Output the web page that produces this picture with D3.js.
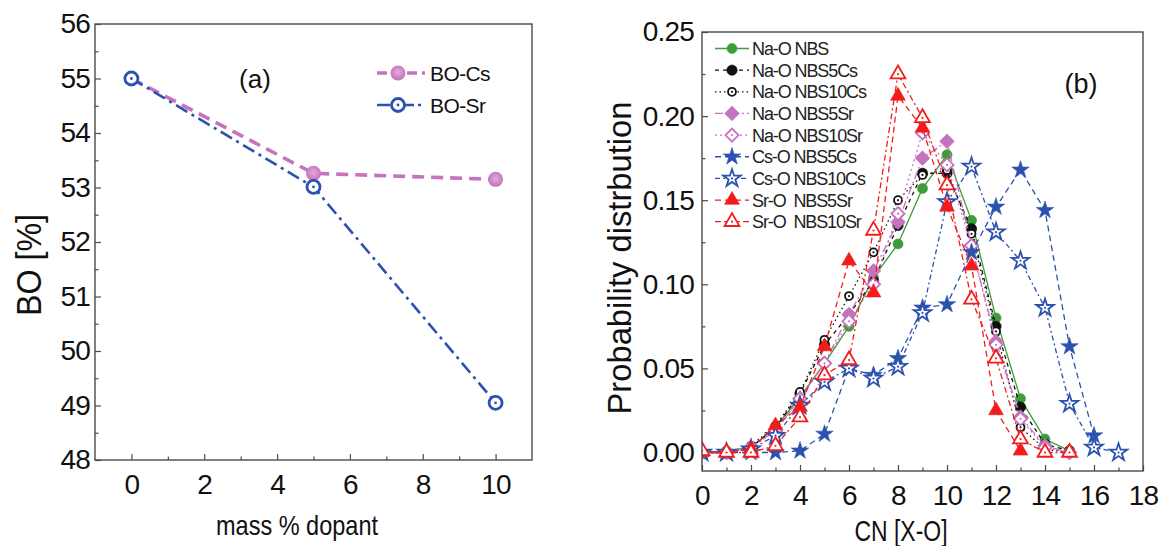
<!DOCTYPE html>
<html>
<head>
<meta charset="utf-8">
<script src="https://cdn.jsdelivr.net/npm/d3@7"></script>
<style>
  html, body { margin: 0; padding: 0; background: #fff; }
  svg { display: block; font-family: "Liberation Sans", Arial, sans-serif; }
</style>
</head>
<body>
<svg id="chart" width="1162" height="546"></svg>
<script>
// ---------- Panel (a): bridging oxygen vs dopant content ----------
const massDopant = [0, 5, 10];
const boCs = [55.0, 53.26, 53.15];
const boSr = [55.0, 53.01, 49.05];
const aTicksX = [0, 2, 4, 6, 8, 10];
const aTicksY = [48, 49, 50, 51, 52, 53, 54, 55, 56];

// ---------- Panel (b): coordination number distributions ----------
const cn = [0, 1, 2, 3, 4, 5, 6, 7, 8, 9, 10, 11, 12, 13, 14, 15, 16, 17];
const naO_NBS     = [0.000, 0.001, 0.003, 0.015, 0.033, 0.053, 0.075, 0.104, 0.124, 0.157, 0.177, 0.138, 0.080, 0.032, 0.008, 0.001];
const naO_NBS5Cs  = [0.000, 0.000, 0.003, 0.015, 0.035, 0.064, 0.082, 0.102, 0.135, 0.166, 0.166, 0.133, 0.075, 0.027, 0.005, 0.001];
const naO_NBS10Cs = [0.000, 0.000, 0.004, 0.016, 0.036, 0.067, 0.093, 0.119, 0.150, 0.165, 0.168, 0.130, 0.072, 0.015, 0.002, 0.000];
const naO_NBS5Sr  = [0.000, 0.000, 0.003, 0.013, 0.032, 0.053, 0.082, 0.108, 0.137, 0.175, 0.185, 0.123, 0.066, 0.021, 0.004, 0.000];
const naO_NBS10Sr = [0.000, 0.000, 0.003, 0.013, 0.032, 0.053, 0.078, 0.100, 0.142, 0.190, 0.171, 0.123, 0.064, 0.020, 0.003, 0.000];
const csO_NBS5Cs  = [0.000, 0.000, 0.000, 0.000, 0.001, 0.011, 0.050, 0.046, 0.056, 0.086, 0.088, 0.119, 0.146, 0.168, 0.144, 0.063, 0.010];
const csO_NBS10Cs = [0.000, 0.000, 0.002, 0.010, 0.028, 0.042, 0.050, 0.044, 0.051, 0.083, 0.149, 0.170, 0.131, 0.114, 0.086, 0.029, 0.003, 0.000];
const srO_NBS5Sr  = [0.000, 0.000, 0.002, 0.016, 0.027, 0.063, 0.114, 0.095, 0.212, 0.193, 0.146, 0.111, 0.025, 0.001];
const srO_NBS10Sr = [0.001, 0.000, 0.000, 0.004, 0.021, 0.046, 0.055, 0.132, 0.225, 0.199, 0.159, 0.091, 0.056, 0.008, 0.000, 0.000];
const bTicksX = [0, 2, 4, 6, 8, 10, 12, 14, 16, 18];
const bTicksY = [0, 0.05, 0.10, 0.15, 0.20, 0.25];

const seriesNames = ["Na-O NBS", "Na-O NBS5Cs", "Na-O NBS10Cs", "Na-O NBS5Sr", "Na-O NBS10Sr",
                     "Cs-O NBS5Cs", "Cs-O NBS10Cs", "Sr-O  NBS5Sr", "Sr-O  NBS10Sr"];

const GREEN = "#3f9c3a", BLACK = "#111", PINK = "#c673bf", BLUE = "#2c52b0", RED = "#f31c1c";

// drawing styles for each distribution curve
const bSeries = [
  { name: seriesNames[0], values: naO_NBS,     color: GREEN, dash: null,      sym: d3.symbolCircle,   size: 80,  open: false },
  { name: seriesNames[1], values: naO_NBS5Cs,  color: BLACK, dash: "4,4",     sym: d3.symbolCircle,   size: 85,  open: false },
  { name: seriesNames[2], values: naO_NBS10Cs, color: BLACK, dash: "1.5,3",   sym: d3.symbolCircle,   size: 50,  open: true  },
  { name: seriesNames[3], values: naO_NBS5Sr,  color: PINK,  dash: "8,3,2,3", sym: d3.symbolDiamond2, size: 140, open: false },
  { name: seriesNames[4], values: naO_NBS10Sr, color: PINK,  dash: "2,3",     sym: d3.symbolDiamond2, size: 110, open: true  },
  { name: seriesNames[5], values: csO_NBS5Cs,  color: BLUE,  dash: "6,4",     sym: d3.symbolStar,     size: 95,  open: false },
  { name: seriesNames[6], values: csO_NBS10Cs, color: BLUE,  dash: "5,3,2,3", sym: d3.symbolStar,     size: 95,  open: true  },
  { name: seriesNames[7], values: srO_NBS5Sr,  color: RED,   dash: "6,4",     sym: d3.symbolTriangle, size: 95,  open: false },
  { name: seriesNames[8], values: srO_NBS10Sr, color: RED,   dash: "6,3,2,3", sym: d3.symbolTriangle, size: 95,  open: true  }
];

const svg = d3.select("#chart");
const defs = svg.append("defs");

const gradCs = defs.append("radialGradient").attr("id", "ballPink").attr("cx", "50%").attr("cy", "45%").attr("r", "60%");
gradCs.append("stop").attr("offset", "0%").attr("stop-color", "#e3acdc");
gradCs.append("stop").attr("offset", "100%").attr("stop-color", "#c069b9");

const tickFont = 28;

function drawFrame(g, x, y) {
  const [x0, x1] = x.range(), [y0, y1] = y.range();
  g.append("rect")
    .attr("x", x0).attr("y", y1).attr("width", x1 - x0).attr("height", y0 - y1)
    .attr("fill", "none").attr("stroke", "#4a4a4a").attr("stroke-width", 1.4);
}

function drawAxes(g, x, y, xMajor, xMinor, yMajor, yMinor, yFmt, yPad) {
  const [y0] = y.range(), [x0] = x.range();
  const xa = g.append("g").attr("transform", `translate(0,${y0})`)
    .call(d3.axisBottom(x).tickValues(xMajor).tickSize(-6).tickPadding(14).tickFormat(d3.format("d")));
  const xm = g.append("g").attr("transform", `translate(0,${y0})`)
    .call(d3.axisBottom(x).tickValues(xMinor).tickSize(-3.5).tickFormat(""));
  const ya = g.append("g").attr("transform", `translate(${x0},0)`)
    .call(d3.axisLeft(y).tickValues(yMajor).tickSize(-6).tickPadding(yPad).tickFormat(yFmt));
  const ym = g.append("g").attr("transform", `translate(${x0},0)`)
    .call(d3.axisLeft(y).tickValues(yMinor).tickSize(-3.5).tickFormat(""));
  [xa, xm, ya, ym].forEach(a => {
    a.select(".domain").remove();
    a.selectAll("line").attr("stroke", "#4a4a4a").attr("stroke-width", 1.2);
    a.selectAll("text").attr("font-size", tickFont).attr("fill", "#111")
      .attr("letter-spacing", "-0.8px")
      .style("font-family", '"Liberation Sans", Arial, sans-serif');
  });
}

// ================= Panel (a) =================
const xA = d3.scaleLinear([-1, 11], [95, 532]);
const yA = d3.scaleLinear([48, 56], [460, 24]);
const gA = svg.append("g");

drawAxes(gA, xA, yA, aTicksX, [1, 3, 5, 7, 9], aTicksY,
  d3.range(48.5, 56, 1), d3.format("d"), 5);

const lineA = d3.line().x(d => xA(d[0])).y(d => yA(d[1]));
const ptsCs = massDopant.map((m, i) => [m, boCs[i]]);
const ptsSr = massDopant.map((m, i) => [m, boSr[i]]);

gA.append("path").attr("d", lineA(ptsCs)).attr("fill", "none")
  .attr("stroke", PINK).attr("stroke-width", 3.6).attr("stroke-dasharray", "12,7");
gA.append("path").attr("d", lineA(ptsSr)).attr("fill", "none")
  .attr("stroke", BLUE).attr("stroke-width", 2.6).attr("stroke-dasharray", "13,5,3,5");

gA.selectAll("circle.cs").data(ptsCs).join("circle").attr("class", "cs")
  .attr("cx", d => xA(d[0])).attr("cy", d => yA(d[1])).attr("r", 7.5)
  .attr("fill", "url(#ballPink)");
gA.selectAll("circle.sr").data(ptsSr).join("circle").attr("class", "sr")
  .attr("cx", d => xA(d[0])).attr("cy", d => yA(d[1])).attr("r", 6.5)
  .attr("fill", "#fff").attr("stroke", BLUE).attr("stroke-width", 2.8);
gA.selectAll("circle.srdot").data(ptsSr).join("circle").attr("class", "srdot")
  .attr("cx", d => xA(d[0])).attr("cy", d => yA(d[1])).attr("r", 1.4).attr("fill", BLUE);

drawFrame(gA, xA, yA);

// legend (a)
const legA = gA.append("g");
[[ "BO-Cs", PINK, "12,7", 3.6, 73 ], [ "BO-Sr", BLUE, "13,5,3,5", 2.6, 105 ]].forEach(([lab, col, dash, w, yy], i) => {
  legA.append("line").attr("x1", 377).attr("x2", 425).attr("y1", yy).attr("y2", yy)
    .attr("stroke", col).attr("stroke-width", w).attr("stroke-dasharray", i === 0 ? "10,5" : "13,4,3,4");
  if (i === 0) {
    legA.append("circle").attr("cx", 398).attr("cy", yy).attr("r", 7.5).attr("fill", "url(#ballPink)");
  } else {
    legA.append("circle").attr("cx", 398).attr("cy", yy).attr("r", 6.5).attr("fill", "#fff")
      .attr("stroke", BLUE).attr("stroke-width", 2.8);
    legA.append("circle").attr("cx", 398).attr("cy", yy).attr("r", 1.4).attr("fill", BLUE);
  }
  legA.append("text").attr("x", 430).attr("y", yy + 7.5).attr("font-size", 21)
    .attr("letter-spacing", "-0.6px").attr("fill", "#111").text(lab);
});

gA.append("text").attr("x", 255).attr("y", 88).attr("text-anchor", "middle")
  .attr("font-size", 26).attr("fill", "#111").text("(a)");

gA.append("text").attr("x", 297).attr("y", 535).attr("text-anchor", "middle")
  .attr("font-size", 28).attr("textLength", 162).attr("lengthAdjust", "spacingAndGlyphs")
  .attr("fill", "#111").text("mass % dopant");

gA.append("text").attr("transform", "translate(41,265) rotate(-90)").attr("text-anchor", "middle")
  .attr("font-size", 35).attr("textLength", 102).attr("lengthAdjust", "spacingAndGlyphs")
  .attr("fill", "#111").text("BO [%]");

// ================= Panel (b) =================
const xB = d3.scaleLinear([0, 18], [702, 1143]);
const yB = d3.scaleLinear([-0.011, 0.25], [471, 32]);
const gB = svg.append("g");

drawAxes(gB, xB, yB, bTicksX, d3.range(1, 18, 2), bTicksY,
  d3.range(0.025, 0.25, 0.05), d3.format(".2f"), 8);

defs.append("clipPath").attr("id", "clipB").append("rect")
  .attr("x", 702).attr("y", 32).attr("width", 441).attr("height", 439);

const plotB = gB.append("g").attr("clip-path", "url(#clipB)");
const lineB = d3.line().x(d => xB(d[0])).y(d => yB(d[1]));

function drawMarker(sel, s, x, y) {
  const p = sel.append("path")
    .attr("d", d3.symbol(s.sym, s.size)())
    .attr("transform", `translate(${x},${y})`);
  if (s.open) {
    p.attr("fill", "#fff").attr("stroke", s.color).attr("stroke-width", 1.8);
    sel.append("circle").attr("cx", x).attr("cy", y).attr("r", 1.1).attr("fill", s.color);
  } else {
    p.attr("fill", s.color).attr("stroke", s.color).attr("stroke-width", 0.6);
  }
}

bSeries.forEach(s => {
  const pts = s.values.map((v, i) => [cn[i], v]);
  const g = plotB.append("g");
  const path = g.append("path").attr("d", lineB(pts)).attr("fill", "none")
    .attr("stroke", s.color).attr("stroke-width", 1.3);
  if (s.dash) path.attr("stroke-dasharray", s.dash);
  pts.forEach(d => drawMarker(g, s, xB(d[0]), yB(d[1])));
});

drawFrame(gB, xB, yB);

// legend (b)
const legB = gB.append("g");
bSeries.forEach((s, i) => {
  const yy = 48.5 + i * 21.65;
  const l = legB.append("line").attr("x1", 715).attr("x2", 749).attr("y1", yy).attr("y2", yy)
    .attr("stroke", s.color).attr("stroke-width", 1.3);
  if (s.dash) l.attr("stroke-dasharray", s.dash);
  drawMarker(legB, s, 732, yy);
  legB.append("text").attr("x", 752).attr("y", yy + 6.5).attr("font-size", 18)
    .attr("letter-spacing", "-1.1px").attr("fill", "#222").attr("xml:space", "preserve")
    .style("white-space", "pre").text(s.name);
});

gB.append("text").attr("x", 1081).attr("y", 93).attr("text-anchor", "middle")
  .attr("font-size", 27).attr("fill", "#111").text("(b)");

gB.append("text").attr("x", 901).attr("y", 541).attr("text-anchor", "middle")
  .attr("font-size", 30).attr("textLength", 93).attr("lengthAdjust", "spacingAndGlyphs")
  .attr("fill", "#111").text("CN [X-O]");

gB.append("text").attr("transform", "translate(631,258) rotate(-90)").attr("text-anchor", "middle")
  .attr("font-size", 34).attr("textLength", 313).attr("lengthAdjust", "spacingAndGlyphs")
  .attr("fill", "#111").text("Probability distrbution");
</script>
</body>
</html>
